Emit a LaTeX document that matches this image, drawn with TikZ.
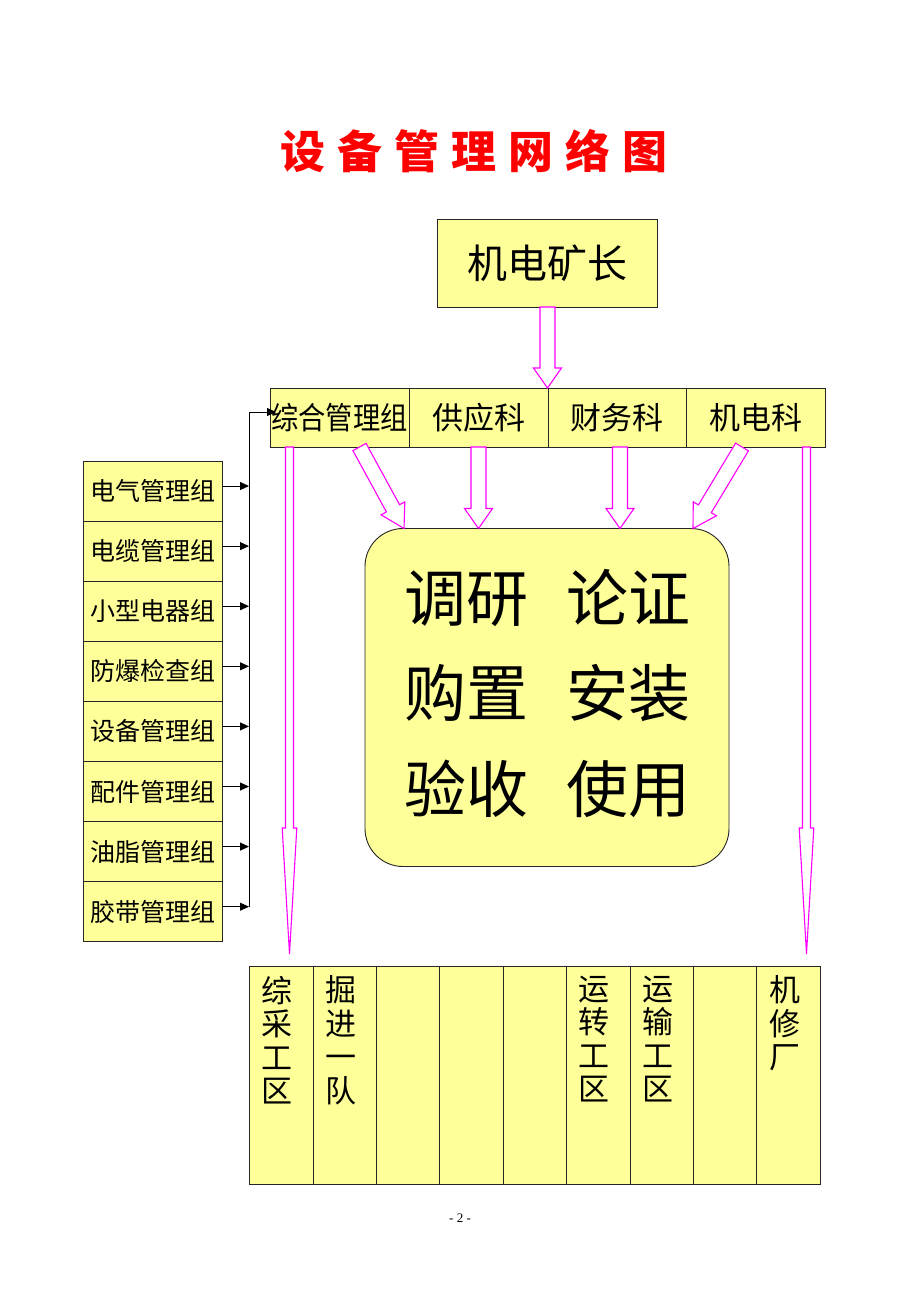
\documentclass[tikz,border=0pt]{standalone}
\usepackage{fontspec}
\setmainfont{Liberation Serif}
\newfontfamily\cjk{Noto Sans CJK SC}
\usetikzlibrary{arrows.meta,calc}
\definecolor{boxyellow}{HTML}{FFFF99}
\definecolor{arrmag}{HTML}{FF00FF}
\definecolor{titlered}{HTML}{FF0000}
% hollow block arrow: from, to, shaft half width, head half width, head length
\newcommand\harrow[5]{%
  \coordinate (ha) at (#1);
  \coordinate (hb) at (#2);
  \coordinate (hh) at ($(hb)!#5!(ha)$);
  \draw[hollow] ($(ha)!#3!90:(hb)$) -- ($(hh)!#3!90:(hb)$) -- ($(hh)!#4!90:(hb)$) -- (hb)
     -- ($(hh)!#4!-90:(hb)$) -- ($(hh)!#3!-90:(hb)$) -- ($(ha)!#3!-90:(hb)$) -- cycle;}
\begin{document}
\begin{tikzpicture}[x=1pt,y=1pt,
  box/.style={draw=black!85, fill=boxyellow, line width=0.9pt, inner sep=0pt, outer sep=0pt},
  hollow/.style={draw=arrmag, line width=1.1pt, fill=white, line join=miter},
  conn/.style={draw=black, line width=0.9pt, -{Triangle[length=9pt,width=8pt]}},
  lft/.style={box, minimum width=139pt, minimum height=60.1pt, font=\fontsize{25}{25}\cjk},
  rowbox/.style={box, minimum height=59pt, font=\fontsize{31}{31}\cjk},
  col/.style={box, minimum width=63.4pt, minimum height=217.3pt},
  coltext/.style={anchor=north, inner sep=0pt, align=center, font=\fontsize{31}{33.5}\cjk},
  big/.style={inner sep=0pt, font=\fontsize{62}{62}\cjk}
]
\fill[white] (0,0) rectangle (920,-1302);
\useasboundingbox (0,0) rectangle (920,-1302);

% title
\node[inner sep=0pt, text=titlered, font=\fontsize{45}{45}\cjk\bfseries] (title) at (474,-151)
  {设\hspace{12pt}备\hspace{12pt}管\hspace{12pt}理\hspace{12pt}网\hspace{12pt}络\hspace{12pt}图};

% top box
\node[box, minimum width=220pt, minimum height=88pt, font=\fontsize{40}{40}\cjk] (kz) at (547.5,-263) {机电矿长};

% department row
\node[rowbox, minimum width=139pt] (zh) at (339.5,-417.5) {\scalebox{0.88}[1]{综合管理组}};
\node[rowbox, minimum width=139pt] (gy) at (478.5,-417.5) {供应科};
\node[rowbox, minimum width=138pt] (cw) at (617,-417.5) {财务科};
\node[rowbox, minimum width=139pt] (jd) at (755.5,-417.5) {机电科};

% main rounded box
\node[box, rounded corners=38pt, minimum width=364pt, minimum height=338pt] (mb) at (547,-697.5) {};
\node[big] (l1) at (547.5,-598) {调研\hspace{38pt}论证};
\node[big] (l2) at (547.5,-693) {购置\hspace{38pt}安装};
\node[big] (l3) at (547.5,-789) {验收\hspace{38pt}使用};

% left column
\foreach \t [count=\i] in {电气管理组,电缆管理组,小型电器组,防爆检查组,设备管理组,配件管理组,油脂管理组,胶带管理组}{
  \node[lft] (g\i) at (152.5,{-491-60.1*(\i-1)}) {\t};
}
\coordinate (vb) at (249,-907);
\coordinate (zin) at ($(zh.west)+(6,5.5)$);
\foreach \i in {1,...,8}{
  \draw[conn] ($(g\i.east)+(0,5)$) -- ($(g\i.east -| vb)+(0,5)$);
}
\draw[conn] (vb) |- (zin);

% bottom columns
\foreach \i in {1,...,9}{
  \node[col] (b\i) at ({281.3+63.4*(\i-1)},-1075.3) {};
}
\node[coltext] (t1) at ($(b1.north)+(-4,-9)$) {综\\采\\工\\区};
\node[coltext] (t2) at ($(b2.north)+(-4,-9)$) {掘\\进\\一\\队};
\node[coltext] (t6) at ($(b6.north)+(-4,-9)$) {运\\转\\工\\区};
\node[coltext] (t7) at ($(b7.north)+(-4,-9)$) {运\\输\\工\\区};
\node[coltext] (t9) at ($(b9.north)+(-4,-9)$) {机\\修\\厂};

% hollow arrows
\coordinate (a0) at (kz.south |- zh.north);
\harrow{kz.south}{a0}{7.5pt}{14pt}{20pt}
\coordinate (gys) at (gy.south);
\coordinate (gyt) at (gy.south |- mb.north);
\harrow{gys}{gyt}{7.5pt}{14pt}{20pt}
\coordinate (cws) at ($(cw.south)+(3,0)$);
\coordinate (cwt) at ($(cw.south |- mb.north)+(3,0)$);
\harrow{cws}{cwt}{7.5pt}{14pt}{20pt}
\coordinate (zhs) at ($(zh.south)+(20,0)$);
\coordinate (zht) at ($(mb.north)+(-143,0)$);
\harrow{zhs}{zht}{7.5pt}{13.5pt}{23pt}
\coordinate (jds) at ($(jd.south)+(-13.5,0)$);
\coordinate (jdt) at ($(mb.north)+(146,0)$);
\harrow{jds}{jdt}{7.5pt}{13.5pt}{23pt}
% long thin arrows to the bottom columns
\coordinate (ls) at ($(zh.south)+(-50,0)$);
\coordinate (le) at (289.5,-954);
\harrow{ls}{le}{4pt}{7.3pt}{126pt}
\coordinate (rs) at ($(jd.south)+(51,0)$);
\coordinate (re) at (806.5,-954);
\harrow{rs}{re}{4pt}{7.3pt}{126pt}

% page number
\node[inner sep=0pt, font=\fontsize{13}{13}\selectfont] (pg) at (460,-1218) {- 2 -};
\end{tikzpicture}
\end{document}
